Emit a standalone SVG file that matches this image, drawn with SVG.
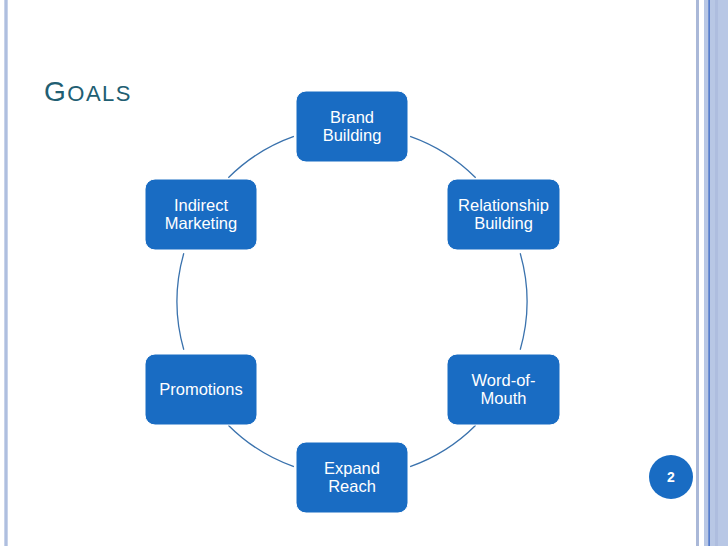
<svg xmlns="http://www.w3.org/2000/svg" width="728" height="546" viewBox="0 0 728 546">
<style>
.node rect{fill:#196cc3;stroke:#ffffff;stroke-width:1}
.node text{fill:#ffffff;font-family:"Liberation Sans",Arial,sans-serif;font-size:16.5px;text-anchor:middle}
.conn path{fill:none;stroke:#3a72ad;stroke-width:1.3}
</style>
<rect x="0" y="0" width="728" height="546" fill="#ffffff"/>
<g id="borders">
<rect x="4" y="0" width="4" height="546" fill="#c8d3ea"/>
<rect x="5" y="0" width="2" height="546" fill="#afbfdf"/>
<rect x="696" y="0" width="3" height="546" fill="#aab8d8"/>
<rect x="704" y="0" width="24" height="546" fill="#b8c7e5"/>
<rect x="715" y="0" width="3" height="546" fill="#aebddf"/>
<rect x="708.5" y="0" width="1.2" height="546" fill="#2d5fc2"/>
</g>
<text id="title" x="44" y="101" fill="#215e72" font-family="Liberation Sans,Arial,sans-serif" font-size="28" letter-spacing="1.5">G<tspan font-size="22">OALS</tspan></text>
<g class="conn" id="connectors">
<path d="M410.1,136.4 A175,175 0 0 1 475.7,177.8"/>
<path d="M520.2,253.3 A175,175 0 0 1 520.2,349.7"/>
<path d="M475.7,425.2 A175,175 0 0 1 410.1,466.6"/>
<path d="M293.9,466.6 A175,175 0 0 1 228.3,425.2"/>
<path d="M183.8,349.7 A175,175 0 0 1 183.8,253.3"/>
<path d="M228.3,177.8 A175,175 0 0 1 293.9,136.4"/>
</g>
<g class="node" id="brand">
<rect x="296" y="91" width="112" height="71" rx="10"/>
<text x="352" y="123">Brand</text>
<text x="352" y="141">Building</text>
</g>
<g class="node" id="relationship">
<rect x="447" y="179" width="113" height="71" rx="10"/>
<text x="503.5" y="211">Relationship</text>
<text x="503.5" y="229">Building</text>
</g>
<g class="node" id="wom">
<rect x="447" y="354" width="113" height="71" rx="10"/>
<text x="503.5" y="386">Word-of-</text>
<text x="503.5" y="404">Mouth</text>
</g>
<g class="node" id="expand">
<rect x="296" y="442" width="112" height="71" rx="10"/>
<text x="352" y="474">Expand</text>
<text x="352" y="492">Reach</text>
</g>
<g class="node" id="promotions">
<rect x="145" y="354" width="112" height="71" rx="10"/>
<text x="201" y="395">Promotions</text>
</g>
<g class="node" id="indirect">
<rect x="145" y="179" width="112" height="71" rx="10"/>
<text x="201" y="211">Indirect</text>
<text x="201" y="229">Marketing</text>
</g>
<g id="pagenum">
<circle cx="671" cy="477" r="22" fill="#196cc3"/>
<text x="671" y="482" fill="#ffffff" font-family="Liberation Sans,Arial,sans-serif" font-size="14" font-weight="bold" text-anchor="middle">2</text>
</g>
</svg>
